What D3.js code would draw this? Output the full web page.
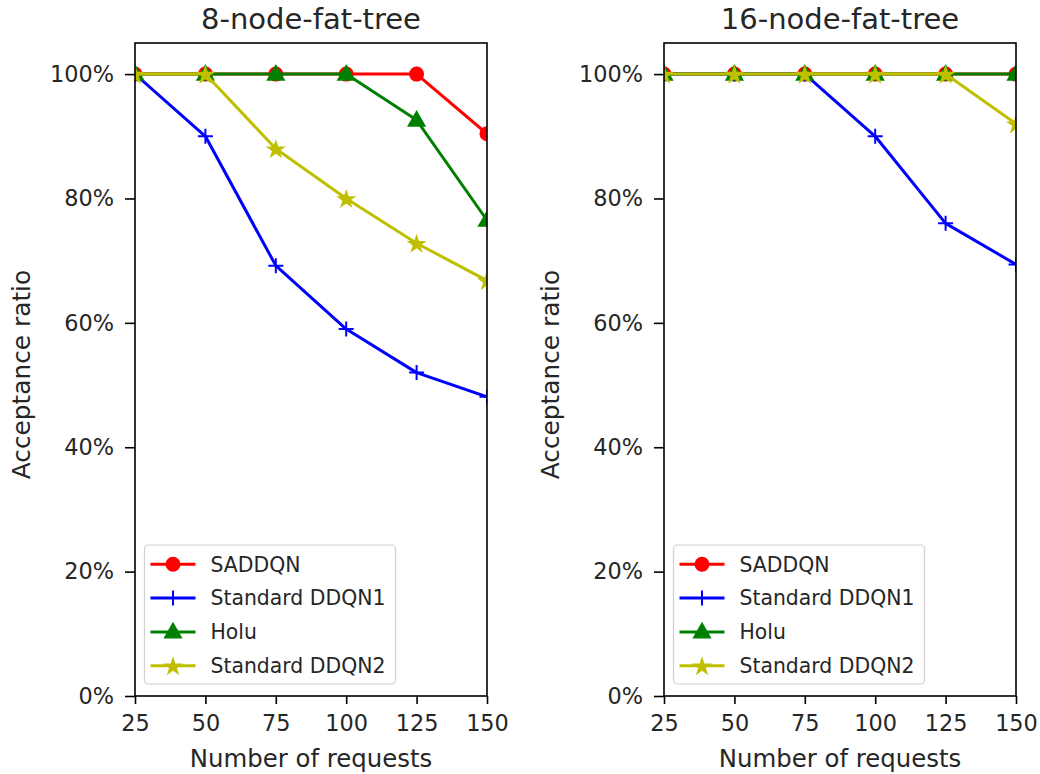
<!DOCTYPE html>
<html><head><meta charset="utf-8">
<script src="https://cdn.jsdelivr.net/npm/d3@7"></script>
<style>body{margin:0;background:#fff}svg{display:block}text{font-family:"DejaVu Sans",sans-serif;fill:#262626}</style>
</head><body><svg id="c" width="1040" height="774"></svg>
<script>
const xValues = [25, 50, 75, 100, 125, 150];
const xTicks = [25, 50, 75, 100, 125, 150];
const yTicks = [0, 20, 40, 60, 80, 100];
const seriesNames = ["SADDQN", "Standard DDQN1", "Holu", "Standard DDQN2"];
const seriesColors = ["#ff0000", "#0000ff", "#008000", "#bfbf00"];
const seriesMarkers = ["circle", "plus", "triangle", "star"];
const panelTitles = ["8-node-fat-tree", "16-node-fat-tree"];

const saddqn8 = [100, 100, 100, 100, 100, 90.4];
const ddqn1_8 = [100, 90, 69.2, 59, 52, 48.1];
const holu8 = [100, 100, 100, 100, 92.6, 76.5];
const ddqn2_8 = [100, 100, 88, 80, 72.8, 66.8];

const saddqn16 = [100, 100, 100, 100, 100, 100];
const ddqn1_16 = [100, 100, 100, 90, 76, 69.4];
const holu16 = [100, 100, 100, 100, 100, 100];
const ddqn2_16 = [100, 100, 100, 100, 100, 92];

const panels = [
  {title: panelTitles[0], data: [saddqn8, ddqn1_8, holu8, ddqn2_8], x0: 135, x1: 487},
  {title: panelTitles[1], data: [saddqn16, ddqn1_16, holu16, ddqn2_16], x0: 664, x1: 1016}
];
const plotTop = 43, plotBottom = 696;
const svg = d3.select("#c");

function drawMarker(g, type, color, x, y) {
  if (type === "circle") {
    g.append("circle").attr("cx", x).attr("cy", y).attr("r", 7.5).attr("fill", color);
  } else if (type === "plus") {
    g.append("path").attr("d", `M${x-7.5},${y}H${x+7.5}M${x},${y-7.5}V${y+7.5}`)
      .attr("stroke", color).attr("stroke-width", 2).attr("fill", "none");
  } else if (type === "triangle") {
    g.append("path").attr("d", d3.symbol(d3.symbolTriangle, 160)()).attr("transform", `translate(${x},${y+1})`).attr("fill", color);
  } else {
    g.append("path").attr("d", d3.symbol(d3.symbolStar, 125)()).attr("transform", `translate(${x},${y+1})`).attr("fill", color);
  }
}

panels.forEach((p, pi) => {
  const x = d3.scaleLinear().domain([25, 150]).range([p.x0, p.x1]);
  const y = d3.scaleLinear().domain([0, 105]).range([plotBottom, plotTop]);
  const g = svg.append("g");
  const clipId = "clip" + pi;
  svg.append("clipPath").attr("id", clipId).append("rect")
    .attr("x", p.x0).attr("y", plotTop).attr("width", p.x1 - p.x0).attr("height", plotBottom - plotTop);
  const plot = g.append("g").attr("clip-path", `url(#${clipId})`);
  const line = d3.line().x((d, i) => x(xValues[i])).y(d => y(d));
  p.data.forEach((vals, si) => {
    const sg = plot.append("g");
    sg.append("path").datum(vals).attr("d", line).attr("fill", "none")
      .attr("stroke", seriesColors[si]).attr("stroke-width", 3).attr("stroke-linejoin", "round");
    vals.forEach((v, i) => drawMarker(sg, seriesMarkers[si], seriesColors[si], x(xValues[i]), y(v)));
  });
  const xa = g.append("g").attr("transform", `translate(0,${plotBottom})`)
    .call(d3.axisBottom(x).tickValues(xTicks).tickSize(8).tickPadding(6).tickFormat(d3.format("d")));
  const ya = g.append("g").attr("transform", `translate(${p.x0},0)`)
    .call(d3.axisLeft(y).tickValues(yTicks).tickSize(10).tickPadding(11).tickFormat(d => d + "%"));
  [xa, ya].forEach(a => {
    a.select(".domain").remove();
    a.selectAll("line").attr("stroke", "#000").attr("stroke-width", 1.6);
    a.selectAll("text").style("font-size", "22.4px").attr("fill", "#262626");
  });
  xa.selectAll("text").attr("dy", "0.95em");
  g.append("rect").attr("x", p.x0).attr("y", plotTop).attr("width", p.x1 - p.x0).attr("height", plotBottom - plotTop)
    .attr("fill", "none").attr("stroke", "#000").attr("stroke-width", 1.6);
  g.append("text").attr("x", (p.x0 + p.x1) / 2).attr("y", 29).attr("text-anchor", "middle")
    .style("font-size", "29px").text(p.title);
  g.append("text").attr("x", (p.x0 + p.x1) / 2).attr("y", 767).attr("text-anchor", "middle")
    .style("font-size", "24.4px").text("Number of requests");
  g.append("text").attr("transform", `translate(${p.x0 - 105},${(plotTop + plotBottom) / 2 + 5}) rotate(-90)`)
    .attr("text-anchor", "middle").style("font-size", "24.8px").text("Acceptance ratio");
  const lx = p.x0 + 9.5, ly = 545, lw = 251, lh = 139;
  const lg = g.append("g");
  lg.append("rect").attr("x", lx).attr("y", ly).attr("width", lw).attr("height", lh).attr("rx", 4)
    .attr("fill", "#fff").attr("fill-opacity", 0.8).attr("stroke", "#d0d0d0").attr("stroke-width", 1.2);
  seriesNames.forEach((name, si) => {
    const cy = 564.3 + si * 33.8;
    lg.append("line").attr("x1", lx + 6).attr("x2", lx + 51).attr("y1", cy).attr("y2", cy)
      .attr("stroke", seriesColors[si]).attr("stroke-width", 3);
    drawMarker(lg, seriesMarkers[si], seriesColors[si], lx + 28.5, cy);
    lg.append("text").attr("x", lx + 66).attr("y", cy).attr("dy", "0.36em")
      .style("font-size", "20.4px").text(name);
  });
});
</script></body></html>
